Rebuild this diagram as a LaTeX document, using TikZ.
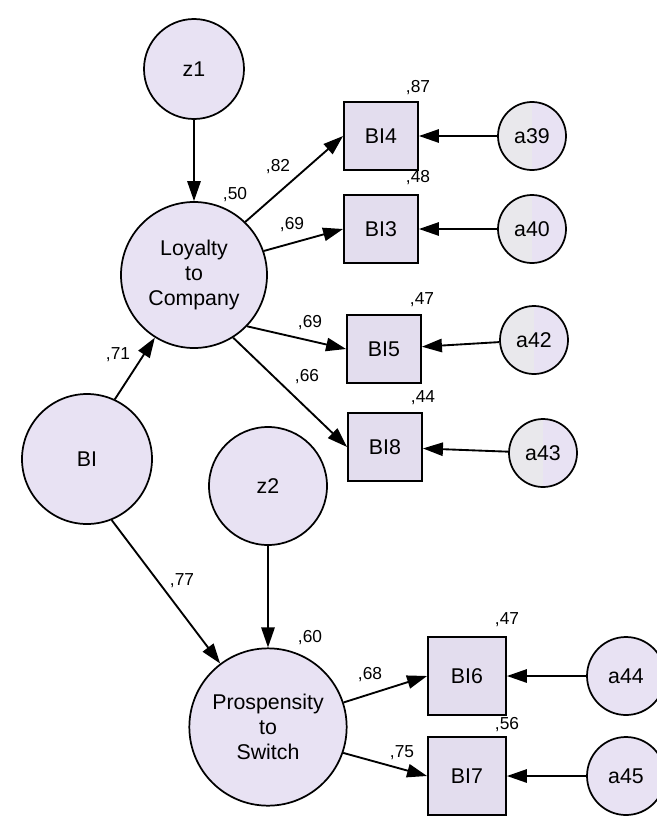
\documentclass[tikz,border=0pt]{standalone}
\usepackage{fontspec}
\setmainfont{Liberation Sans}
\usetikzlibrary{arrows.meta,positioning}
\definecolor{latfill}{HTML}{E8E2F3}
\definecolor{boxfill}{HTML}{E3DDEE}
\definecolor{errgray}{HTML}{E9E8EC}

\begin{document}
\begin{tikzpicture}[x=0.75pt, y=-0.75pt,
  latent/.style={circle, draw, line width=1.3pt, fill=latfill, inner sep=0pt, align=center,
    font=\fontsize{16}{19}\selectfont},
  obs/.style={rectangle, draw, line width=1.4pt, fill=boxfill, inner sep=0pt,
    minimum width=55.5pt, minimum height=51pt, font=\fontsize{16}{19}\selectfont},
  errterm/.style={latent, minimum size=51pt},
  halfgray/.style={path picture={\fill[errgray] (path picture bounding box.south west) rectangle (path picture bounding box.north);}},
  coef/.style={font=\fontsize{13}{15}\selectfont, inner sep=1pt},
  regpath/.style={line width=1.4pt, -{Triangle[length=15pt,width=10pt]}}]
\useasboundingbox (0,0) rectangle (657,825);
% latent variables
\node[latent, minimum size=75pt] (z1) at (194,69) {z1};
\node[latent, minimum size=109.5pt] (loyal) at (194,275) {Loyalty\\to\\Company};
\node[latent, minimum size=97.5pt] (BI) at (87,459) {BI};
\node[latent, minimum size=88.5pt] (z2) at (268,486) {z2};
\node[latent, minimum size=118pt] (switch) at (268,727) {Prospensity\\to\\Switch};
% indicators
\node[obs] (BI4) at (381,136) {BI4};
\node[obs] (BI3) at (381,229) {BI3};
\node[obs] (BI5) at (384,349) {BI5};
\node[obs] (BI8) at (385,447) {BI8};
\node[obs, minimum width=58.5pt, minimum height=59pt] (BI6) at (467,676) {BI6};
\node[obs, minimum width=58.5pt, minimum height=59pt] (BI7) at (467,776) {BI7};
% error terms
\node[errterm, halfgray] (a39) at (532,136) {a39};
\node[errterm, halfgray] (a40) at (532,229) {a40};
\node[errterm, halfgray] (a42) at (534,340) {a42};
\node[errterm, halfgray] (a43) at (543,453) {a43};
\node[errterm, minimum size=58.5pt] (a44) at (626,676) {a44};
\node[errterm, minimum size=58.5pt] (a45) at (626,776) {a45};
% structural paths
\draw[regpath] (z1) -- (loyal);
\draw[regpath] (BI.65) -- (loyal.-122);
\draw[regpath] (BI.-68) -- (switch.127);
\draw[regpath] (z2) -- (switch);
% loadings
\draw[regpath] (loyal.46) -- (BI4.west);
\draw[regpath] (loyal.19) -- (BI3.west);
\draw[regpath] (loyal.-44) -- (BI5.west);
\draw[regpath] (loyal.-58) -- (BI8.west);
\draw[regpath] (switch.18) -- (BI6.west);
\draw[regpath] (switch.-19) -- (BI7.west);
\foreach \e/\b in {a39/BI4, a40/BI3, a42/BI5, a43/BI8, a44/BI6, a45/BI7} {
  \draw[regpath] (\e) -- (\b);
}
% estimates
\node[coef] (r87) at (418,88) {,87};
\node[coef] (r48) at (418,178) {,48};
\node[coef] (r47a) at (422,300) {,47};
\node[coef] (r44) at (423,398) {,44};
\node[coef] (r50) at (235,195) {,50};
\node[coef] (r60) at (310,638) {,60};
\node[coef] (r47b) at (507,620) {,47};
\node[coef] (r56) at (507,725) {,56};
\node[coef] (w82) at (278,167) {,82};
\node[coef] (w69a) at (292,225) {,69};
\node[coef] (w69b) at (310,323) {,69};
\node[coef] (w66) at (307,377) {,66};
\node[coef] (w71) at (118,355) {,71};
\node[coef] (w77) at (182,581) {,77};
\node[coef] (w68) at (370,675) {,68};
\node[coef] (w75) at (402,753) {,75};
\end{tikzpicture}
\end{document}
